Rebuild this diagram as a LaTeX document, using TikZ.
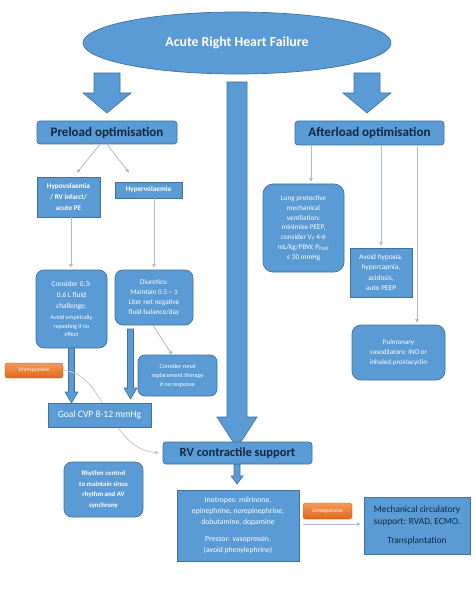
\documentclass[tikz,border=0pt]{standalone}
\usepackage{fontspec}
\setmainfont{Carlito}
\usetikzlibrary{arrows.meta,calc,shapes.geometric}
\definecolor{boxblue}{HTML}{5B9BD5}
\definecolor{boxedge}{HTML}{41719C}
\definecolor{navy}{HTML}{0E2841}
\definecolor{thinline}{HTML}{A9BCD8}
\definecolor{curveline}{HTML}{BCC8D8}
\definecolor{orangeA}{HTML}{F49B57}
\definecolor{orangeB}{HTML}{E2661B}
\newcommand{\blockarrow}[6]{%
  \filldraw[barrow] (#1-#5,#2) -- (#1+#5,#2) -- (#1+#5,#3) -- (#1+#6,#3) -- (#1,#4) -- (#1-#6,#3) -- (#1-#5,#3) -- cycle;}
\newcommand{\fs}[2]{\fontsize{#1}{#2}\selectfont}
\begin{document}
\begin{tikzpicture}[x=1pt,y=-1pt,
  bluebox/.style={draw=boxedge, line width=0.7pt, fill=boxblue, text=white, align=center, inner sep=0pt},
  headbox/.style={bluebox, rounded corners=3pt, text=navy, font=\bfseries\fs{13}{14}},
  roundbox/.style={bluebox, rounded corners=8pt},
  orangebox/.style={draw=orangeB!80!black, line width=0.3pt, top color=orangeA, bottom color=orangeB, rounded corners=2.5pt, text=white, inner sep=0pt, font=\fs{5.6}{7}},
  barrow/.style={fill=boxblue, draw=boxedge, line width=0.6pt},
  thinarrow/.style={draw=thinline, line width=0.8pt, -{Triangle[length=3.5pt,width=3.5pt]}},
  curvearrow/.style={draw=curveline, line width=0.8pt, -{Triangle[length=3.5pt,width=3.5pt,fill=thinline]}}]
\useasboundingbox (0,0) rectangle (474,593);
\fill[white] (0,0) rectangle (474,593);

% block arrows
\blockarrow{107}{73}{93}{113}{13}{24}
\blockarrow{367}{73}{93}{113}{13}{24}
\blockarrow{237}{82}{417}{448}{10}{20}
\blockarrow{71.5}{348}{392}{403}{3}{6.5}
\blockarrow{130.5}{329}{388}{399}{3}{6.5}
\blockarrow{237}{464}{476}{484}{3}{6}

% top ellipse
\node[bluebox, ellipse, minimum width=308pt, minimum height=62pt, font=\bfseries\fs{13.8}{15}] (arhf) at (237,43) {Acute Right Heart Failure};

% preload side
\node[headbox, minimum width=140pt, minimum height=23pt] (pre) at (107,132.5) {Preload optimisation};
\node[bluebox, minimum width=63pt, minimum height=40pt, font=\bfseries\fs{7.2}{11}] (hypo) at (68.5,197) {Hypovolaemia\\/ RV infarct/\\acute PE};
\node[bluebox, minimum width=67pt, minimum height=16pt, font=\bfseries\fs{7.2}{9}] (hyper) at (148.5,190) {Hypervolaemia};
\node[roundbox, minimum width=71pt, minimum height=78pt, font=\fs{7.4}{8.6}] (cons) at (71.5,309) {Consider 0.3-\\[2.4pt]0.6 L fluid\\[2.4pt]challenge:\\[3pt]\fs{6}{8.6}Avoid empirically\\\fs{6}{8.6}repeating if no\\\fs{6}{8.6}effect};
\node[roundbox, minimum width=78pt, minimum height=55pt, font=\fs{7.2}{10}] (diur) at (154,297.5) {Diuretics:\\Maintain 0.5 – 1\\Liter net negative\\fluid balance/day};
\node[roundbox, rounded corners=7pt, minimum width=79pt, minimum height=41pt, font=\fs{6.1}{9}] (renal) at (177.5,375.5) {Consider renal\\replacement therapy\\if no response};

% curve from unresponsive to RV (behind goal box)
\node[headbox, font=\bfseries\fs{12.5}{14}, minimum width=149pt, minimum height=22pt] (rv) at (237.5,453) {RV contractile support};
\node[orangebox, minimum width=58pt, minimum height=15pt] (unr1) at (34,370.5) {Unresponsive};
\draw[curvearrow, shorten >=4pt] (unr1.east) .. controls (105,372) and (108,449) .. (rv.west);
\node[bluebox, minimum width=103pt, minimum height=24pt, font=\fs{9.6}{11}] (goal) at (99.5,415) {Goal CVP 8-12 mmHg};

% afterload side
\node[headbox, minimum width=149pt, minimum height=24pt] (aft) at (369.5,133) {Afterload optimisation};
\node[roundbox, rounded corners=10pt, minimum width=81pt, minimum height=88pt, font=\fs{7.2}{9.8}] (lung) at (303.5,228) {Lung protective\\mechanical\\ventilation:\\minimise PEEP,\\consider V\textsubscript{T} 4-6\\mL/kg/PBW, P\textsubscript{PLAT}\\≤ 30 mmHg};
\node[bluebox, minimum width=62pt, minimum height=49pt, font=\fs{7.4}{10.4}] (avoid) at (381,272.5) {Avoid hypoxia,\\hypercapnia,\\acidosis,\\auto PEEP};
\node[roundbox, rounded corners=9pt, minimum width=93pt, minimum height=55pt, font=\fs{7.1}{10}] (pulm) at (398.5,352.5) {Pulmonary\\vasodilators: iNO or\\inhaled prostacyclin};

% bottom
\node[roundbox, minimum width=79pt, minimum height=55pt, font=\bfseries\fs{6.8}{10.5}] (rhythm) at (103.5,489.5) {Rhythm control\\to maintain sinus\\rhythm and AV\\synchrony};
\node[bluebox, minimum width=122pt, minimum height=71pt, font=\fs{7.7}{10.8}] (ino) at (238,525.5) {Inotropes: milrinone,\\epinephrine, norepinephrine,\\dobutamine, dopamine\\[6pt]Pressor: vasopressin.\\(avoid phenylephrine)};
\node[orangebox, minimum width=49pt, minimum height=16pt] (unr2) at (327.5,511) {Unresponsive};
\node[bluebox, text=navy, minimum width=106pt, minimum height=57pt, font=\fs{9.4}{12}] (mech) at (417,525.5) {Mechanical circulatory\\support: RVAD, ECMO.\\[7pt]Transplantation};

% thin connectors
\draw[thinarrow] ([xshift=-7pt]pre.south) -- ([xshift=8.5pt,yshift=4pt]hypo.north);
\draw[thinarrow] (pre.south) -- ([xshift=-19.5pt,yshift=9pt]hyper.north);
\draw[thinarrow, shorten >=2pt] ([xshift=2.5pt]hypo.south) -- ([xshift=2.5pt]hypo.south |- cons.north);
\draw[thinarrow, shorten >=2pt] ([xshift=5.5pt]hyper.south) -- ([xshift=5.5pt]hyper.south |- diur.north);
\draw[thinarrow] ([xshift=-1pt]diur.south) -- ([xshift=-5.5pt]renal.north);
\draw[thinarrow, shorten >=2pt] ([xshift=-58.5pt]aft.south) -- ([xshift=-58.5pt]aft.south |- lung.north);
\draw[thinarrow, shorten >=2pt] ([xshift=11.5pt]aft.south) -- (avoid.north);
\draw[thinarrow, shorten >=2pt] ([xshift=47.5pt]aft.south) -- ([xshift=47.5pt]aft.south |- pulm.north);
\draw[thinarrow, shorten >=3pt] ([yshift=-5pt]unr2.south west) -- ([yshift=-5pt]unr2.south west -| mech.west);
\end{tikzpicture}
\end{document}
